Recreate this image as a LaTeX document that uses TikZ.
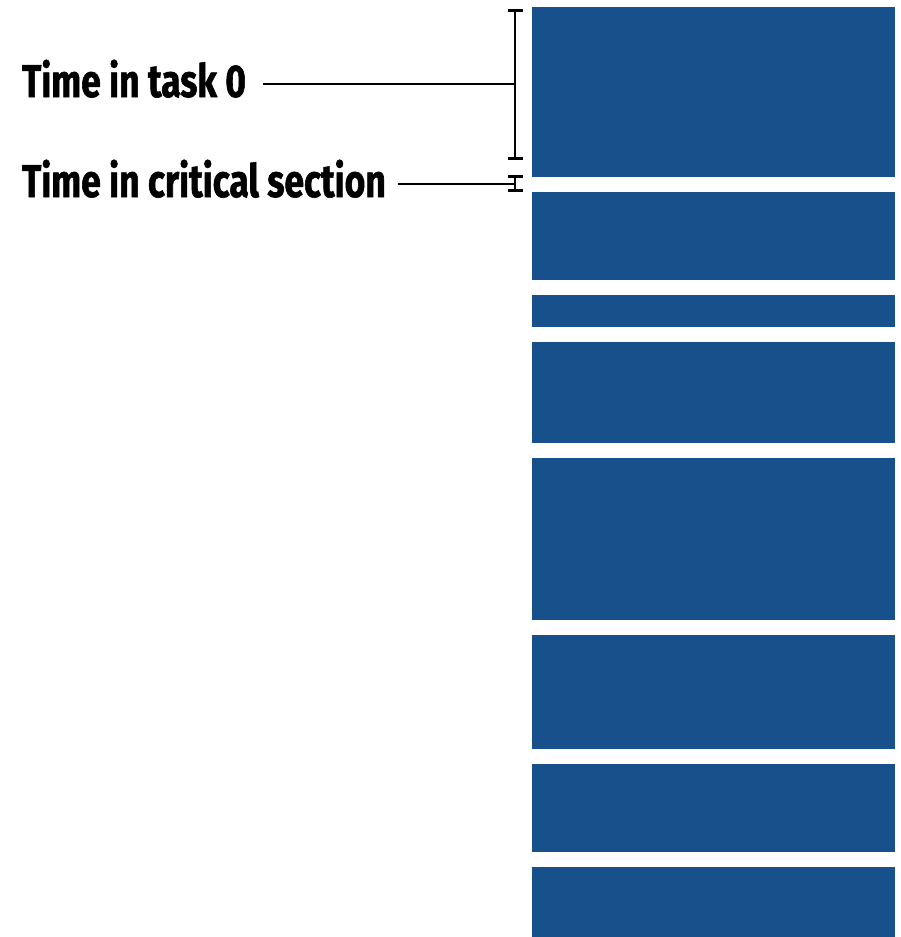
\documentclass[tikz,border=0pt]{standalone}
\usepackage{fontspec}
\usepackage{xcolor}
\usepackage{tikz}
\usetikzlibrary{arrows.meta, positioning, calc}
\newfontfamily\labelfont[FakeStretch=0.77, BoldFeatures={FakeBold=1.2}]{Fira Sans}
\definecolor{slotblue}{HTML}{17508A}

\begin{document}
\begin{tikzpicture}[
    x=1pt, y=-1pt,
    slot/.style={fill=slotblue},
    lbl/.style={font=\labelfont\bfseries\fontsize{46pt}{50pt}\selectfont, inner sep=0pt, anchor=base west},
    brace/.style={{Bar[width=15pt, line width=2.8pt]}-{Bar[width=15pt, line width=2.8pt]}, line width=2.8pt},
    lead/.style={line width=2.8pt},
]
% Frame
\useasboundingbox[fill=white] (0,0) rectangle (900,937);
% Time line of the task slots
\foreach \top/\bot in {7/177, 192/280, 295/327, 342/443, 458/620, 635/749, 764/852, 867/937}
  \fill[slot] (532,\top) rectangle (895,\bot);
% Labels
\node[lbl] (t0) at (22,97) {Time in task 0};
\node[lbl] (cs) at (22,197) {Time in critical section};
% Brackets
\coordinate (b0top) at (515,9);
\coordinate (b0bot) at (515,160);
\coordinate (b0) at (515,84);
\coordinate (b1top) at (515,175);
\coordinate (b1bot) at (515,192);
\coordinate (b1) at (515,184);
\draw[brace] (b0top) -- (b0bot);
\draw[brace] (b1top) -- (b1bot);
\draw[lead] ([xshift=17pt]t0.east |- b0) -- (b0);
\draw[lead] ([xshift=12pt]cs.east |- b1) -- (b1);
\end{tikzpicture}
\end{document}
